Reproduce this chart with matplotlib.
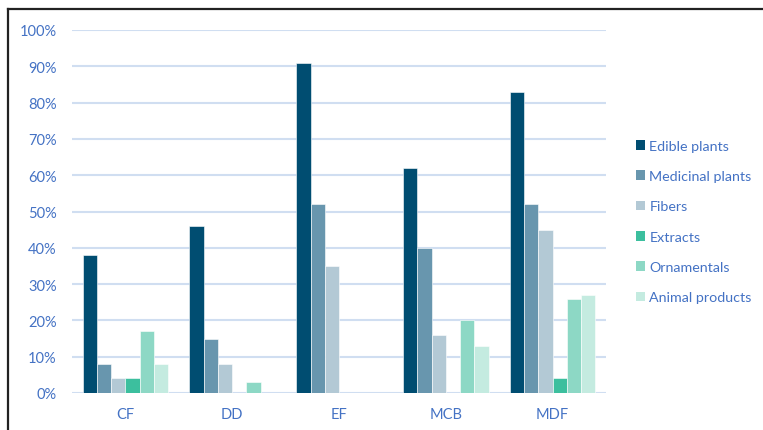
import matplotlib
matplotlib.use("Agg")
import matplotlib.pyplot as plt
import numpy as np
from matplotlib.patches import Patch
from matplotlib.lines import Line2D
from matplotlib.ticker import PercentFormatter

plt.rcParams['font.family'] = ['Lato', 'DejaVu Sans']

sites = ["CF", "DD", "EF", "MCB", "MDF"]
uses = ["Edible plants", "Medicinal plants", "Fibers", "Extracts",
        "Ornamentals", "Animal products"]
edible = [38, 46, 91, 62, 83]
medicinal = [8, 15, 52, 40, 52]
fibers = [4, 8, 35, 16, 45]
extracts = [4, 0, 0, 0, 4]
ornamentals = [17, 3, 0, 20, 26]
animal = [8, 0, 0, 13, 27]
series = [edible, medicinal, fibers, extracts, ornamentals, animal]
colors = ["#004D71", "#6896AE", "#B3C9D5", "#3CBF9E", "#8DD8C5", "#C4EBE0"]

text_color = "#4472C4"
grid_color = "#D0DEF1"

W, H = 763, 431
fig = plt.figure(figsize=(W / 100, H / 100), dpi=100)
ax = fig.add_axes([72 / W, (H - 394) / H, (606 - 72) / W, (394 - 31) / H])

n = len(series)
group_w = 0.8
bw = group_w / n
x = np.arange(len(sites))
for i, (vals, c) in enumerate(zip(series, colors)):
    offs = -group_w / 2 + bw * (i + 0.5)
    ax.bar(x + offs, vals, width=bw, color=c, edgecolor="white",
           linewidth=0.4, zorder=3)

ax.set_xlim(-0.5, len(sites) - 0.5)
ax.set_ylim(0, 100)
ax.set_yticks(np.arange(0, 101, 10))
ax.yaxis.set_major_formatter(PercentFormatter(decimals=0))
ax.set_xticks(x)
ax.set_xticklabels(sites)
ax.grid(axis="y", color=grid_color, linewidth=1.5, zorder=0)
ax.tick_params(length=0, labelsize=10.5, colors=text_color)
ax.tick_params(axis="y", pad=11)
ax.tick_params(axis="x", pad=10)
for s in ax.spines.values():
    s.set_visible(False)

handles = [Patch(facecolor=c, edgecolor="none") for c in colors]
leg = fig.legend(handles, uses, loc="upper left",
                 bbox_to_anchor=(623 / W, (H - 128) / H),
                 frameon=False, fontsize=10.3, handlelength=0.65,
                 handleheight=0.65, handletextpad=0.3, labelspacing=1.28)
for t in leg.get_texts():
    t.set_color(text_color)

# outer frame (top and left edges)
fig.add_artist(Line2D([8 / W, 1.0], [(H - 10) / H, (H - 10) / H],
                      color="#222222", linewidth=1.6))
fig.add_artist(Line2D([8 / W, 8 / W], [0, (H - 10) / H],
                      color="#222222", linewidth=1.6))

fig.savefig("out.png", dpi=100)
